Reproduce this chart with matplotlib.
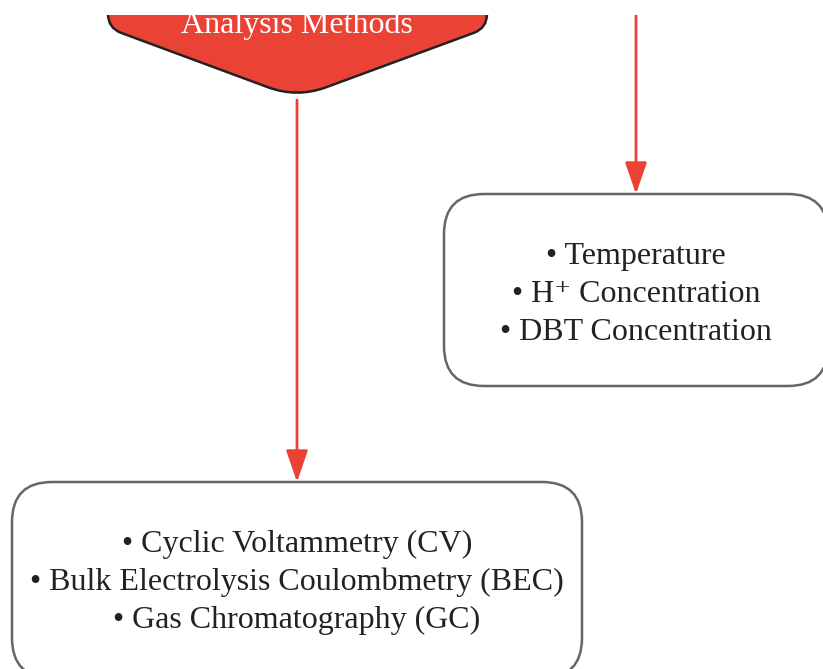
import numpy as np
import matplotlib
matplotlib.use("Agg")
import matplotlib.pyplot as plt
from matplotlib.patches import FancyBboxPatch, PathPatch, Rectangle
from matplotlib.path import Path

# ---- content ----
top_label = "Analysis Methods"
right_items = ["Temperature", "H\u207a Concentration", "DBT Concentration"]
bottom_items = ["Cyclic Voltammetry (CV)", "Bulk Electrolysis Coulombmetry (BEC)", "Gas Chromatography (GC)"]

RED = "#ea4335"
EDGE = "#666666"
TXT = "#222222"
FONT = ["Liberation Serif", "DejaVu Serif"]

W, H = 823, 669
fig = plt.figure(figsize=(W / 100, H / 100), dpi=100)
ax = fig.add_axes([0, 0, 1, 1])
ax.set_xlim(0, W)
ax.set_ylim(H, 0)
ax.axis("off")

# ---- top offpage-connector shape (rounded) ----
def rounded_poly(verts, radii):
    n = len(verts)
    codes, pts = [], []
    for i in range(n):
        p = np.array(verts[i], float)
        r = radii[i]
        if r == 0:
            pts.append(p); codes.append(Path.LINETO)
            continue
        prev = np.array(verts[i - 1], float)
        nxt = np.array(verts[(i + 1) % n], float)
        a = p + (prev - p) / np.linalg.norm(prev - p) * r
        b = p + (nxt - p) / np.linalg.norm(nxt - p) * r
        pts += [a, p, b]
        codes += [Path.LINETO, Path.CURVE3, Path.CURVE3]
    codes[0] = Path.MOVETO
    return Path(pts, codes)

shape_verts = [(108, -20), (108, 28), (297, 98), (487, 28), (487, -20)]
shape_r = [0, 14, 31, 14, 0]
path = rounded_poly(shape_verts, shape_r)
ax.add_patch(PathPatch(path, facecolor=RED, edgecolor="#222222", lw=1.8, zorder=2))
ax.text(297, 33, top_label, ha="center", va="baseline", color="white",
        fontsize=23, family=FONT, zorder=3)

# ---- boxes ----
LINE_STEP = 38
def box(x0, y0, x1, y1, items, cx, first_baseline):
    ax.add_patch(FancyBboxPatch((x0, y0), x1 - x0, y1 - y0,
                                boxstyle="round,pad=0,rounding_size=40",
                                facecolor="white", edgecolor=EDGE, lw=1.8, zorder=2))
    for i, s in enumerate(items):
        ax.text(cx, first_baseline + i * LINE_STEP, "\u2022 " + s, ha="center", va="baseline",
                color=TXT, fontsize=23, family=FONT, zorder=3)

box(444, 194, 828, 386, right_items, 636, 264)
box(12, 482, 582, 678, bottom_items, 297, 552)

# ---- arrows ----
astyle = "-|>,head_length=1.3,head_width=0.45"
ax.annotate("", xy=(636, 194), xytext=(636, 0),
            arrowprops=dict(arrowstyle=astyle, color=RED, lw=2.0, mutation_scale=15,
                            shrinkA=0, shrinkB=0), zorder=1)
ax.annotate("", xy=(297, 482), xytext=(297, 100),
            arrowprops=dict(arrowstyle=astyle, color=RED, lw=2.0, mutation_scale=15,
                            shrinkA=0, shrinkB=0), zorder=1)

# clip band at top (the reference is cut off there)
ax.add_patch(Rectangle((0, -5), W, 20, facecolor="white", edgecolor="none", zorder=10))

fig.savefig("out.png", dpi=100)
